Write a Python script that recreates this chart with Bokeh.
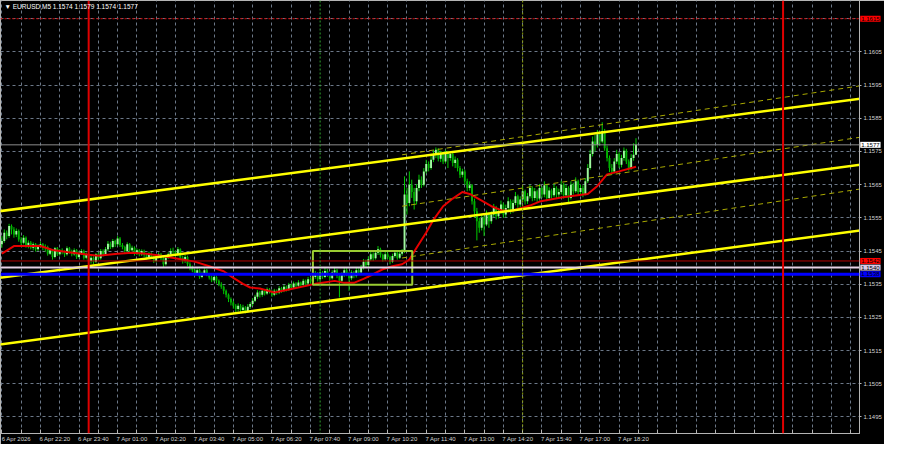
from bokeh.plotting import figure
from bokeh.models import (Range1d, LinearAxis, FixedTicker, Span, Label, Grid,
                          ColumnDataSource, NumeralTickFormatter)
from bokeh.core.properties import value
from bokeh.embed import file_html
from bokeh.resources import INLINE

# ---------------- data (EURUSD M5, bar index 0 = 6 Apr 21:00) ----------------
opens = [
1.15470, 1.15480, 1.15505, 1.15495, 1.15525, 1.15515, 1.15500, 1.15510, 1.15485, 1.15475,
1.15490, 1.15465, 1.15475, 1.15460, 1.15470, 1.15455, 1.15465, 1.15470, 1.15460, 1.15462,
1.15442, 1.15452, 1.15432, 1.15458, 1.15440, 1.15450, 1.15448, 1.15440, 1.15458, 1.15448,
1.15440, 1.15452, 1.15432, 1.15442, 1.15450, 1.15430, 1.15440, 1.15420, 1.15430, 1.15418,
1.15440, 1.15428, 1.15450, 1.15440, 1.15455, 1.15472, 1.15462, 1.15480, 1.15470, 1.15488,
1.15468, 1.15462, 1.15450, 1.15470, 1.15452, 1.15460, 1.15442, 1.15452, 1.15440, 1.15450,
1.15438, 1.15430, 1.15442, 1.15432, 1.15420, 1.15432, 1.15440, 1.15428, 1.15410, 1.15430,
1.15440, 1.15450, 1.15448, 1.15438, 1.15455, 1.15430, 1.15420, 1.15432, 1.15410, 1.15400,
1.15392, 1.15380, 1.15392, 1.15372, 1.15382, 1.15392, 1.15380, 1.15370, 1.15362, 1.15372,
1.15360, 1.15350, 1.15342, 1.15330, 1.15318, 1.15305, 1.15295, 1.15285, 1.15275, 1.15285,
1.15272, 1.15280, 1.15268, 1.15282, 1.15290, 1.15300, 1.15312, 1.15325, 1.15318, 1.15330,
1.15322, 1.15335, 1.15328, 1.15318, 1.15330, 1.15325, 1.15338, 1.15330, 1.15342, 1.15335,
1.15348, 1.15340, 1.15352, 1.15345, 1.15355, 1.15348, 1.15360, 1.15352, 1.15365, 1.15358,
1.15372, 1.15380, 1.15365, 1.15385, 1.15372, 1.15390, 1.15378, 1.15368, 1.15385, 1.15392,
1.15375, 1.15360, 1.15378, 1.15392, 1.15380, 1.15368, 1.15385, 1.15375, 1.15392, 1.15385,
1.15400, 1.15418, 1.15408, 1.15425, 1.15440, 1.15428, 1.15445, 1.15455, 1.15438, 1.15425,
1.15440, 1.15432, 1.15418, 1.15435, 1.15445, 1.15430, 1.15442, 1.15448, 1.15620, 1.15595,
1.15650, 1.15628, 1.15600, 1.15640, 1.15665, 1.15650, 1.15690, 1.15712, 1.15700, 1.15725,
1.15740, 1.15755, 1.15728, 1.15745, 1.15720, 1.15748, 1.15730, 1.15742, 1.15715, 1.15725,
1.15700, 1.15680, 1.15690, 1.15660, 1.15640, 1.15648, 1.15600, 1.15570, 1.15540, 1.15520,
1.15550, 1.15530, 1.15562, 1.15540, 1.15560, 1.15580, 1.15555, 1.15570, 1.15590, 1.15560,
1.15580, 1.15600, 1.15572, 1.15595, 1.15615, 1.15590, 1.15605, 1.15630, 1.15600, 1.15615,
1.15640, 1.15610, 1.15630, 1.15608, 1.15640, 1.15620, 1.15648, 1.15610, 1.15632, 1.15618,
1.15640, 1.15620, 1.15628, 1.15650, 1.15618, 1.15640, 1.15610, 1.15650, 1.15630, 1.15660,
1.15628, 1.15640, 1.15622, 1.15660, 1.15700, 1.15742, 1.15780, 1.15770, 1.15802, 1.15780,
1.15812, 1.15760, 1.15730, 1.15700, 1.15690, 1.15720, 1.15742, 1.15710, 1.15730, 1.15752,
1.15720, 1.15700, 1.15730, 1.15740]

highs = [
1.15495, 1.15515, 1.15512, 1.15532, 1.15530, 1.15522, 1.15518, 1.15515, 1.15492, 1.15498,
1.15494, 1.15482, 1.15480, 1.15476, 1.15474, 1.15470, 1.15478, 1.15474, 1.15470, 1.15466,
1.15458, 1.15455, 1.15462, 1.15462, 1.15456, 1.15458, 1.15452, 1.15464, 1.15462, 1.15454,
1.15458, 1.15456, 1.15448, 1.15456, 1.15454, 1.15446, 1.15444, 1.15436, 1.15434, 1.15444,
1.15446, 1.15456, 1.15455, 1.15462, 1.15480, 1.15478, 1.15486, 1.15484, 1.15495, 1.15492,
1.15474, 1.15466, 1.15476, 1.15474, 1.15466, 1.15464, 1.15458, 1.15456, 1.15455, 1.15454,
1.15442, 1.15448, 1.15446, 1.15436, 1.15438, 1.15446, 1.15444, 1.15432, 1.15436, 1.15446,
1.15458, 1.15460, 1.15452, 1.15462, 1.15458, 1.15436, 1.15438, 1.15436, 1.15416, 1.15406,
1.15396, 1.15398, 1.15396, 1.15388, 1.15398, 1.15396, 1.15384, 1.15376, 1.15378, 1.15376,
1.15364, 1.15356, 1.15346, 1.15334, 1.15322, 1.15310, 1.15300, 1.15290, 1.15292, 1.15290,
1.15288, 1.15284, 1.15290, 1.15296, 1.15308, 1.15318, 1.15332, 1.15330, 1.15336, 1.15334,
1.15340, 1.15338, 1.15332, 1.15336, 1.15334, 1.15344, 1.15342, 1.15348, 1.15346, 1.15354,
1.15352, 1.15358, 1.15356, 1.15362, 1.15358, 1.15366, 1.15364, 1.15372, 1.15370, 1.15380,
1.15390, 1.15386, 1.15396, 1.15390, 1.15400, 1.15396, 1.15384, 1.15392, 1.15402, 1.15396,
1.15380, 1.15386, 1.15400, 1.15398, 1.15386, 1.15392, 1.15390, 1.15400, 1.15398, 1.15408,
1.15426, 1.15424, 1.15434, 1.15448, 1.15446, 1.15452, 1.15465, 1.15460, 1.15442, 1.15448,
1.15446, 1.15436, 1.15442, 1.15452, 1.15450, 1.15448, 1.15456, 1.15675, 1.15640, 1.15690,
1.15665, 1.15640, 1.15652, 1.15680, 1.15675, 1.15700, 1.15725, 1.15720, 1.15740, 1.15755,
1.15762, 1.15760, 1.15752, 1.15750, 1.15756, 1.15752, 1.15750, 1.15746, 1.15735, 1.15730,
1.15706, 1.15698, 1.15695, 1.15668, 1.15660, 1.15652, 1.15608, 1.15580, 1.15550, 1.15560,
1.15556, 1.15572, 1.15566, 1.15570, 1.15592, 1.15586, 1.15580, 1.15602, 1.15596, 1.15590,
1.15612, 1.15606, 1.15605, 1.15628, 1.15620, 1.15615, 1.15645, 1.15635, 1.15625, 1.15650,
1.15645, 1.15640, 1.15635, 1.15652, 1.15645, 1.15660, 1.15652, 1.15642, 1.15638, 1.15652,
1.15645, 1.15638, 1.15662, 1.15655, 1.15650, 1.15645, 1.15660, 1.15656, 1.15672, 1.15665,
1.15650, 1.15648, 1.15670, 1.15712, 1.15755, 1.15795, 1.15800, 1.15815, 1.15810, 1.15838,
1.15818, 1.15768, 1.15738, 1.15712, 1.15730, 1.15755, 1.15748, 1.15740, 1.15762, 1.15758,
1.15726, 1.15742, 1.15775, 1.15790]

lows = [
1.15460, 1.15475, 1.15485, 1.15490, 1.15500, 1.15490, 1.15492, 1.15478, 1.15468, 1.15470,
1.15460, 1.15458, 1.15455, 1.15452, 1.15448, 1.15450, 1.15460, 1.15452, 1.15448, 1.15436,
1.15438, 1.15424, 1.15428, 1.15435, 1.15436, 1.15440, 1.15432, 1.15436, 1.15442, 1.15434,
1.15436, 1.15426, 1.15428, 1.15438, 1.15424, 1.15425, 1.15414, 1.15412, 1.15410, 1.15414,
1.15422, 1.15424, 1.15434, 1.15436, 1.15450, 1.15456, 1.15458, 1.15462, 1.15466, 1.15462,
1.15455, 1.15444, 1.15446, 1.15446, 1.15448, 1.15436, 1.15438, 1.15434, 1.15435, 1.15432,
1.15424, 1.15426, 1.15426, 1.15414, 1.15416, 1.15428, 1.15422, 1.15402, 1.15406, 1.15426,
1.15436, 1.15440, 1.15432, 1.15434, 1.15424, 1.15412, 1.15414, 1.15404, 1.15392, 1.15386,
1.15374, 1.15376, 1.15366, 1.15368, 1.15378, 1.15374, 1.15364, 1.15356, 1.15358, 1.15352,
1.15344, 1.15336, 1.15320, 1.15310, 1.15296, 1.15286, 1.15276, 1.15266, 1.15268, 1.15264,
1.15266, 1.15262, 1.15264, 1.15276, 1.15284, 1.15296, 1.15306, 1.15310, 1.15312, 1.15316,
1.15318, 1.15322, 1.15312, 1.15314, 1.15318, 1.15320, 1.15324, 1.15326, 1.15328, 1.15330,
1.15334, 1.15336, 1.15338, 1.15340, 1.15342, 1.15344, 1.15346, 1.15348, 1.15352, 1.15354,
1.15366, 1.15358, 1.15360, 1.15366, 1.15368, 1.15372, 1.15362, 1.15364, 1.15380, 1.15368,
1.15310, 1.15354, 1.15372, 1.15374, 1.15330, 1.15362, 1.15368, 1.15370, 1.15378, 1.15380,
1.15394, 1.15400, 1.15402, 1.15420, 1.15420, 1.15424, 1.15438, 1.15430, 1.15418, 1.15420,
1.15426, 1.15410, 1.15414, 1.15430, 1.15424, 1.15426, 1.15436, 1.15444, 1.15560, 1.15585,
1.15610, 1.15575, 1.15590, 1.15630, 1.15640, 1.15645, 1.15684, 1.15690, 1.15695, 1.15718,
1.15730, 1.15720, 1.15718, 1.15712, 1.15715, 1.15700, 1.15722, 1.15705, 1.15700, 1.15690,
1.15670, 1.15672, 1.15650, 1.15630, 1.15632, 1.15590, 1.15550, 1.15482, 1.15505, 1.15512,
1.15495, 1.15525, 1.15520, 1.15532, 1.15552, 1.15545, 1.15548, 1.15562, 1.15550, 1.15552,
1.15572, 1.15562, 1.15565, 1.15588, 1.15580, 1.15582, 1.15598, 1.15590, 1.15592, 1.15608,
1.15600, 1.15602, 1.15598, 1.15602, 1.15610, 1.15612, 1.15600, 1.15604, 1.15608, 1.15612,
1.15610, 1.15612, 1.15620, 1.15608, 1.15610, 1.15598, 1.15605, 1.15620, 1.15625, 1.15618,
1.15620, 1.15612, 1.15618, 1.15655, 1.15695, 1.15735, 1.15750, 1.15762, 1.15768, 1.15775,
1.15752, 1.15720, 1.15688, 1.15680, 1.15684, 1.15712, 1.15700, 1.15702, 1.15722, 1.15712,
1.15692, 1.15695, 1.15722, 1.15740]

closes = [
1.15480, 1.15505, 1.15495, 1.15525, 1.15515, 1.15500, 1.15510, 1.15485, 1.15475, 1.15490,
1.15465, 1.15475, 1.15460, 1.15470, 1.15455, 1.15465, 1.15470, 1.15460, 1.15462, 1.15442,
1.15452, 1.15432, 1.15458, 1.15440, 1.15450, 1.15448, 1.15440, 1.15458, 1.15448, 1.15440,
1.15452, 1.15432, 1.15442, 1.15450, 1.15430, 1.15440, 1.15420, 1.15430, 1.15418, 1.15440,
1.15428, 1.15450, 1.15440, 1.15455, 1.15472, 1.15462, 1.15480, 1.15470, 1.15488, 1.15468,
1.15462, 1.15450, 1.15470, 1.15452, 1.15460, 1.15442, 1.15452, 1.15440, 1.15450, 1.15438,
1.15430, 1.15442, 1.15432, 1.15420, 1.15432, 1.15440, 1.15428, 1.15410, 1.15430, 1.15440,
1.15450, 1.15448, 1.15438, 1.15455, 1.15430, 1.15420, 1.15432, 1.15410, 1.15400, 1.15392,
1.15380, 1.15392, 1.15372, 1.15382, 1.15392, 1.15380, 1.15370, 1.15362, 1.15372, 1.15360,
1.15350, 1.15342, 1.15330, 1.15318, 1.15305, 1.15295, 1.15285, 1.15275, 1.15285, 1.15272,
1.15280, 1.15268, 1.15282, 1.15290, 1.15300, 1.15312, 1.15325, 1.15318, 1.15330, 1.15322,
1.15335, 1.15328, 1.15318, 1.15330, 1.15325, 1.15338, 1.15330, 1.15342, 1.15335, 1.15348,
1.15340, 1.15352, 1.15345, 1.15355, 1.15348, 1.15360, 1.15352, 1.15365, 1.15358, 1.15372,
1.15380, 1.15365, 1.15385, 1.15372, 1.15390, 1.15378, 1.15368, 1.15385, 1.15392, 1.15375,
1.15360, 1.15378, 1.15392, 1.15380, 1.15368, 1.15385, 1.15375, 1.15392, 1.15385, 1.15400,
1.15418, 1.15408, 1.15425, 1.15440, 1.15428, 1.15445, 1.15455, 1.15438, 1.15425, 1.15440,
1.15432, 1.15418, 1.15435, 1.15445, 1.15430, 1.15442, 1.15448, 1.15620, 1.15595, 1.15650,
1.15628, 1.15600, 1.15640, 1.15665, 1.15650, 1.15690, 1.15712, 1.15700, 1.15725, 1.15740,
1.15755, 1.15728, 1.15745, 1.15720, 1.15748, 1.15730, 1.15742, 1.15715, 1.15725, 1.15700,
1.15680, 1.15690, 1.15660, 1.15640, 1.15648, 1.15600, 1.15570, 1.15540, 1.15520, 1.15550,
1.15530, 1.15562, 1.15540, 1.15560, 1.15580, 1.15555, 1.15570, 1.15590, 1.15560, 1.15580,
1.15600, 1.15572, 1.15595, 1.15615, 1.15590, 1.15605, 1.15630, 1.15600, 1.15615, 1.15640,
1.15610, 1.15630, 1.15608, 1.15640, 1.15620, 1.15648, 1.15610, 1.15632, 1.15618, 1.15640,
1.15620, 1.15628, 1.15650, 1.15618, 1.15640, 1.15610, 1.15650, 1.15630, 1.15660, 1.15628,
1.15640, 1.15622, 1.15660, 1.15700, 1.15742, 1.15780, 1.15770, 1.15802, 1.15780, 1.15812,
1.15760, 1.15730, 1.15700, 1.15690, 1.15720, 1.15742, 1.15710, 1.15730, 1.15752, 1.15720,
1.15700, 1.15730, 1.15740, 1.15770]

# moving average (red) read at selected bars
ma_bars = [0, 5, 16, 21, 27, 36, 40, 44, 48, 54, 60, 66, 73, 80, 86, 92, 96, 100, 103, 107,
           113, 121, 130, 138, 142, 146, 150, 154, 158, 162, 166, 169, 172, 176, 179, 183,
           187, 191, 194, 199, 203, 207, 211, 219, 223, 232, 238, 243, 247, 251, 256, 263]
ma_vals = [1.15442, 1.15465, 1.15465, 1.15453, 1.15447, 1.15439, 1.15436, 1.15439, 1.15442,
           1.15445, 1.15442, 1.15436, 1.15427, 1.15418, 1.15404, 1.15389, 1.15369, 1.15351,
           1.15340, 1.15337, 1.15325, 1.15337, 1.15351, 1.15360, 1.15354, 1.15354, 1.15366,
           1.15380, 1.15395, 1.15404, 1.15410, 1.15424, 1.15460, 1.15506, 1.15544, 1.15585,
           1.15608, 1.15628, 1.15622, 1.15602, 1.15585, 1.15573, 1.15570, 1.15587, 1.15599,
           1.15611, 1.15617, 1.15622, 1.15646, 1.15681, 1.15690, 1.15704]

# ascending channel (solid yellow) anchors
chan_bars = [-1, 357]
chan_top = [1.15570, 1.15910]
chan_mid = [1.15369, 1.15711]
chan_bot = [1.15168, 1.15513]

# regression channel (dashed) anchors
reg_bars = [166, 357]
reg_up = [1.15740, 1.15949]
reg_mid = [1.15585, 1.15794]
reg_low = [1.15429, 1.15638]

# flat range box
box_bars = [129.0, 170.2]
box_prices = [1.15348, 1.15450]

# horizontal levels
levels = [1.1615, 1.1577, 1.1542, 1.1540, 1.1538]
level_labels = ["1.1615", "1.1577", "1.1542", "1.1540", "1.1538"]

# vertical markers (bar index)
day_breaks = [36, 324]
session_marks = [132, 216]

# axes
price_ticks = [1.1495, 1.1505, 1.1515, 1.1525, 1.1535, 1.1545, 1.1555, 1.1565,
               1.1575, 1.1585, 1.1595, 1.1605]
grid_prices = price_ticks + [1.1615]
time_tick_bars = [0, 16, 32, 48, 64, 80, 96, 112, 128, 144, 160, 176, 192, 208, 224, 240, 256]
time_labels = ["6 Apr 2026", "6 Apr 22:20", "6 Apr 23:40", "7 Apr 01:00", "7 Apr 02:20",
               "7 Apr 03:40", "7 Apr 05:00", "7 Apr 06:20", "7 Apr 07:40", "7 Apr 09:00",
               "7 Apr 10:20", "7 Apr 11:40", "7 Apr 13:00", "7 Apr 14:20", "7 Apr 15:40",
               "7 Apr 17:00", "7 Apr 18:20"]
grid_bars = list(range(0, 360, 8))
title_text = "\u25bc EURUSD,M5  1.1574 1.1579 1.1574 1.1577"

assert len(opens) == len(highs) == len(lows) == len(closes) == 264

# ---------------- figure ----------------
X0, X1 = -0.57, 355.7
Y0, Y1 = 1.14900, 1.16205
FONT = "Liberation Sans"
p = figure(width=884, height=444, output_backend="svg", toolbar_location=None,
           x_range=Range1d(X0, X1), y_range=Range1d(Y0, Y1),
           x_axis_location=None, y_axis_location=None,
           min_border_left=0, min_border_right=0, min_border_top=0, min_border_bottom=0)
p.background_fill_color = "black"
p.border_fill_color = "black"
p.outline_line_color = "#b4b4b4"
for g in p.grid:
    g.visible = False

gx = Grid(dimension=0, ticker=FixedTicker(ticks=grid_bars), grid_line_color="#6c7888",
          grid_line_dash="3 3", grid_line_width=1)
gy = Grid(dimension=1, ticker=FixedTicker(ticks=grid_prices), grid_line_color="#6c7888",
          grid_line_dash="3 3", grid_line_width=1)
p.add_layout(gx)
p.add_layout(gy)

# bottom axis: labels left-aligned at their tick (label centre shifted right)
LBL_SHIFT = 6
xaxis = LinearAxis(
    ticker=FixedTicker(ticks=[b + LBL_SHIFT for b in time_tick_bars], minor_ticks=grid_bars),
    major_label_overrides={b + LBL_SHIFT: t for b, t in zip(time_tick_bars, time_labels)},
    major_tick_line_color=None, major_tick_in=0, major_tick_out=0,
    minor_tick_line_color="#b4b4b4", minor_tick_in=4, minor_tick_out=0,
    axis_line_color="#b4b4b4",
    major_label_text_color="#d2d2d2", major_label_text_font=FONT,
    major_label_text_font_size="6px", major_label_standoff=2)
p.add_layout(xaxis, "below")

yaxis = LinearAxis(ticker=FixedTicker(ticks=price_ticks), formatter=NumeralTickFormatter(format="0.0000"),
                   major_tick_line_color="#b4b4b4", major_tick_out=2, major_tick_in=0,
                   minor_tick_line_color=None, minor_tick_in=0, minor_tick_out=0,
                   axis_line_color="#b4b4b4",
                   major_label_text_color="#d2d2d2", major_label_text_font=FONT,
                   major_label_text_font_size="6px", major_label_standoff=2)
p.add_layout(yaxis, "right")

# candles
bars = list(range(len(closes)))
tops = [max(o, c) for o, c in zip(opens, closes)]
bots = [min(o, c) for o, c in zip(opens, closes)]
fills = ["#a0f8a0" if c >= o else "#00b000" for o, c in zip(opens, closes)]
src = ColumnDataSource(dict(x=bars, h=highs, l=lows, top=tops, bottom=bots, fill=fills))
p.segment(x0="x", y0="l", x1="x", y1="h", source=src, line_color="#00cc00", line_width=1)
p.vbar(x="x", top="top", bottom="bottom", width=0.8, fill_color="fill", line_color=None, source=src)

# horizontal levels
p.add_layout(Span(location=levels[0], dimension="width", line_color="#e00000", line_width=1, line_dash="2 2"))
p.add_layout(Span(location=levels[1], dimension="width", line_color="#8c8c8c", line_width=1))
p.add_layout(Span(location=levels[2], dimension="width", line_color="#b40000", line_width=1))
p.add_layout(Span(location=levels[3], dimension="width", line_color="#e6d2e6", line_width=2))
p.add_layout(Span(location=levels[4], dimension="width", line_color="#0000ff", line_width=3))

# vertical markers
for b in day_breaks:
    p.add_layout(Span(location=b, dimension="height", line_color="#e00000", line_width=2))
p.add_layout(Span(location=session_marks[0], dimension="height", line_color="#2ea02e", line_width=1, line_dash="2 2"))
p.add_layout(Span(location=session_marks[1], dimension="height", line_color="#8ca000", line_width=1, line_dash="2 2"))

# moving average
p.line(ma_bars, ma_vals, line_color="#e60000", line_width=2)

# channels
for ys in (chan_top, chan_mid, chan_bot):
    p.line(chan_bars, ys, line_color="#ffff00", line_width=2.5)
for ys in (reg_up, reg_mid, reg_low):
    p.line(reg_bars, ys, line_color="#a8a800", line_width=1, line_dash="5 4")

# range box
p.quad(left=[box_bars[0]], right=[box_bars[1]], bottom=[box_prices[0]], top=[box_prices[1]],
       fill_color=None, line_color="#9acd32", line_width=2)

# price tags on the right scale (overlay level so they are drawn outside the frame)
tag_src = ColumnDataSource(dict(
    x=[X1 + 0.3] * len(levels), y=levels, text=level_labels,
    bg=["#ff0000", "#ffffff", "#ff0000", "#d8c8e6", "#0000ff"]))
p.text(x="x", y="y", text="text", source=tag_src, text_align="left", text_baseline="middle",
       text_font=value(FONT), text_font_size="6px", text_color="#000000",
       background_fill_color="bg", padding=1, level="overlay")

# title
p.add_layout(Label(x=4, x_units="screen", y=1.16188, text=title_text, text_align="left",
                   text_baseline="middle", text_font=FONT, text_font_size="6.5px",
                   text_color="#ffffff"))

open("out.html", "w").write(file_html(p, INLINE))
